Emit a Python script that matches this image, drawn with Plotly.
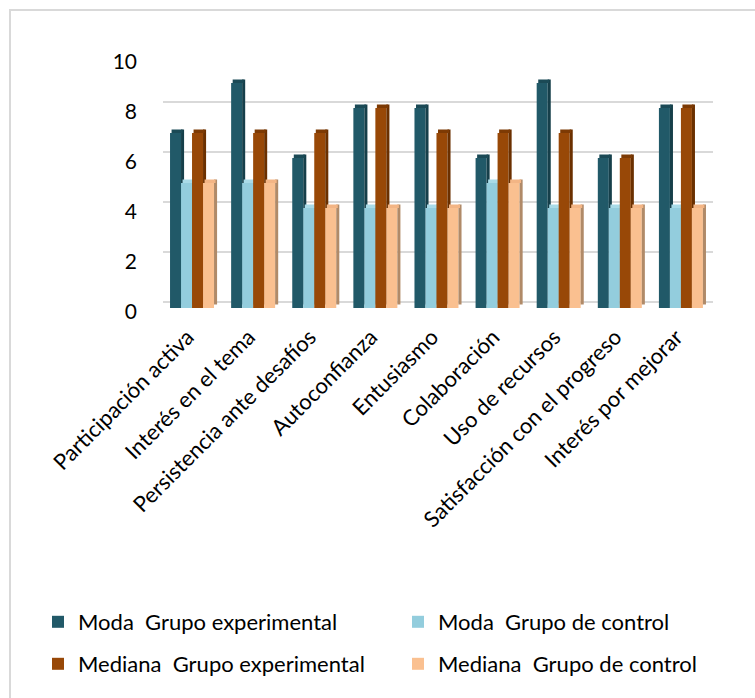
import plotly.graph_objects as go

categories = ["Participación activa", "Interés en el tema", "Persistencia ante desafíos",
              "Autoconfianza", "Entusiasmo", "Colaboración", "Uso de recursos",
              "Satisfacción con el progreso", "Interés por mejorar"]
moda_exp = [7, 9, 6, 8, 8, 6, 9, 6, 8]
moda_ctrl = [5, 5, 4, 4, 4, 5, 4, 4, 4]
mediana_exp = [7, 7, 7, 8, 7, 7, 7, 6, 8]
mediana_ctrl = [5, 5, 4, 4, 4, 5, 4, 4, 4]

series = [
    ("Moda\u00a0 Grupo experimental", moda_exp, "#215968", "#163f4a", "#1b4a56"),
    ("Moda\u00a0 Grupo de control", moda_ctrl, "#93CDDD", "#6aa7b8", "#a9dbe8"),
    ("Mediana\u00a0 Grupo experimental", mediana_exp, "#984807", "#6b3000", "#7d3a04"),
    ("Mediana\u00a0 Grupo de control", mediana_ctrl, "#FAC090", "#b08a68", "#f3b585"),
]
legend_ids = ["legend", "legend3", "legend2", "legend4"]

FONT = "Lato, Carlito, Calibri, sans-serif"
W = 0.18      # bar width (category units)
D = 0.05      # depth width
S = 0.14      # depth vertical shift
START = -0.385

fig = go.Figure()
for i, (name, vals, col, side, top) in enumerate(series):
    off = START + i * W
    fig.add_trace(go.Bar(x=categories, y=vals, name=name, marker_color=col,
                         marker_line_width=0, offset=off, width=W,
                         legend=legend_ids[i]))
    fig.add_trace(go.Bar(x=categories, y=vals, base=[S] * len(vals), marker_color=side,
                         marker_line_width=0, offset=off + W, width=D,
                         showlegend=False, hoverinfo="skip"))
    fig.add_trace(go.Bar(x=categories, y=[S] * len(vals), base=vals, marker_color=top,
                         marker_line_width=0, offset=off + D * 0.5, width=W,
                         showlegend=False, hoverinfo="skip"))

L, R, T, B = 163, 42, 58, 390
PW, PH = 755 - L - R, 698 - T - B

def px_x(px):
    return (px - L) / PW

def px_y(py):
    return (698 - B - py) / PH

def cx(px):
    return px / 755

def cy(py):
    return 1 - py / 698

legend_common = dict(orientation="h", xanchor="left", yanchor="middle",
                     xref="container", yref="container",
                     font=dict(size=22, family=FONT),
                     bgcolor="rgba(0,0,0,0)", traceorder="normal")

fig.update_layout(
    width=755, height=698,
    margin=dict(l=L, r=R, t=T, b=B),
    barmode="overlay",
    paper_bgcolor="white", plot_bgcolor="white",
    font=dict(family=FONT, color="#000000"),
    xaxis=dict(range=[-0.5, 8.5], showgrid=False, zeroline=False, showline=False,
               tickangle=-45, tickfont=dict(size=22, family=FONT), ticks="",
               ticklabelstandoff=11, ticklabelshift=-6, automargin=False),
    yaxis=dict(range=[0, 10], dtick=2, showgrid=False, zeroline=False, showline=False,
               tickfont=dict(size=21, family=FONT), ticklabelstandoff=25,
               ticklabelshift=4, automargin=False),
    yaxis2=dict(range=[-S * 1.6, 10 - S * 1.6], dtick=2, overlaying="y", showgrid=True,
                gridcolor="#d9d9d9", gridwidth=2, zeroline=False, showticklabels=False,
                showline=False),
    legend=dict(x=cx(38), y=cy(622), **legend_common),
    legend3=dict(x=cx(398), y=cy(622), **legend_common),
    legend2=dict(x=cx(38), y=cy(664), **legend_common),
    legend4=dict(x=cx(398), y=cy(664), **legend_common),
    shapes=[dict(type="rect", xref="paper", yref="paper", x0=px_x(10), x1=px_x(770),
                 y0=px_y(720), y1=px_y(10), line=dict(color="#d9d9d9", width=2),
                 layer="below")],
    showlegend=True,
)
# dummy trace to activate yaxis2 gridlines
fig.add_trace(go.Scatter(x=[categories[0]], y=[None], yaxis="y2", showlegend=False,
                         hoverinfo="skip"))

fig.write_html("out.html")
